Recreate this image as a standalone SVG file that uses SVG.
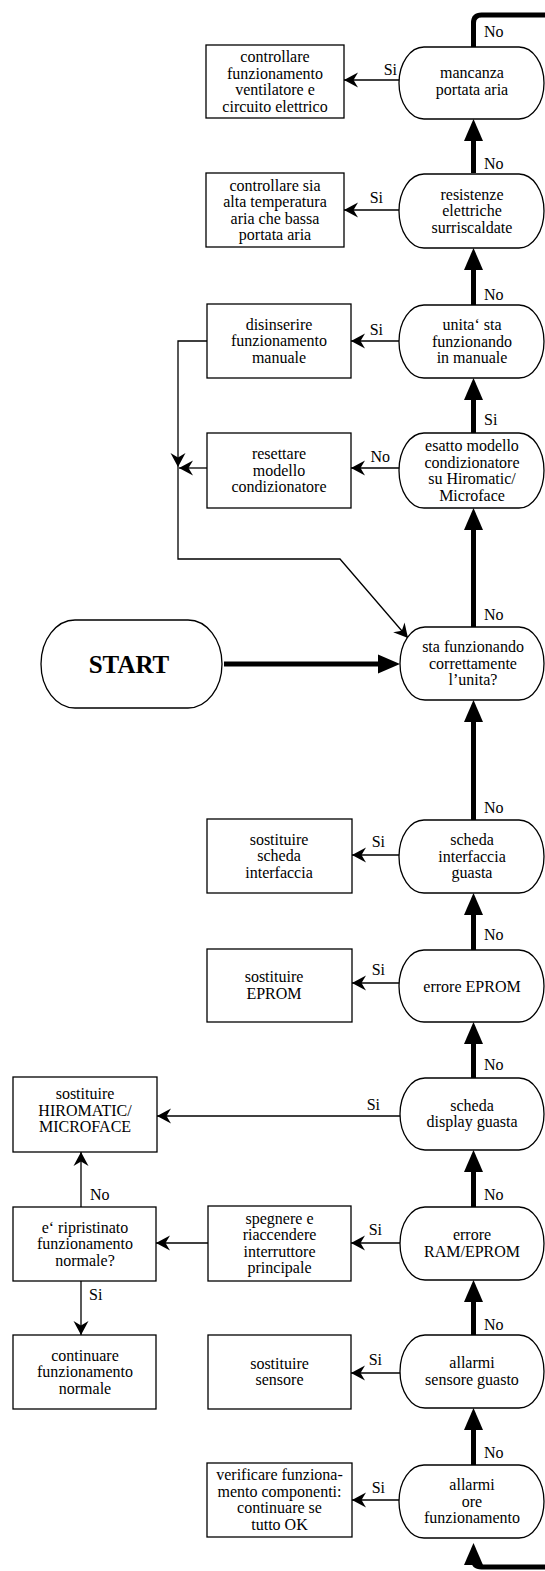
<svg xmlns="http://www.w3.org/2000/svg" width="545" height="1571" viewBox="0 0 545 1571">
<style>
.box{fill:#fff;stroke:#000;stroke-width:1.3}
.cap{fill:#fff;stroke:#000;stroke-width:1.3}
text{font-family:"Liberation Serif","Times New Roman",serif;font-size:16px;fill:#000}
.t{text-anchor:middle}
.e{text-anchor:end}
.thin{fill:none;stroke:#000;stroke-width:1.3}
.thick{fill:none;stroke:#000;stroke-width:5;stroke-linejoin:round}
.start{font-size:25px;font-weight:bold}
</style>
<defs>
<marker id="ah" markerUnits="userSpaceOnUse" viewBox="-15 -8 16 16" refX="0" refY="0" markerWidth="16" markerHeight="16" orient="auto">
<path d="M0,0 L-14,-7.5 L-9.5,0 L-14,7.5 Z" fill="#000"/>
</marker>
<marker id="big" markerUnits="userSpaceOnUse" viewBox="-11 -11 24 22" refX="0" refY="0" markerWidth="24" markerHeight="22" orient="auto">
<path d="M12,0 L-10,-9.5 L-10,9.5 Z" fill="#000"/>
</marker>
</defs>
<rect width="545" height="1571" fill="#fff"/>

<g id="connectors">
<path class="thick" d="M473.5,47 L473.5,23 Q473.5,15 481.5,15 L545,15"/>
<path class="thick" d="M473.5,173 L473.5,131" marker-end="url(#big)"/>
<path class="thick" d="M473.5,305 L473.5,260" marker-end="url(#big)"/>
<path class="thick" d="M473.5,433 L473.5,390" marker-end="url(#big)"/>
<path class="thick" d="M473.5,627 L473.5,520" marker-end="url(#big)"/>
<path class="thick" d="M473.5,820 L473.5,712" marker-end="url(#big)"/>
<path class="thick" d="M473.5,950 L473.5,905" marker-end="url(#big)"/>
<path class="thick" d="M473.5,1078 L473.5,1034" marker-end="url(#big)"/>
<path class="thick" d="M473.5,1207 L473.5,1162" marker-end="url(#big)"/>
<path class="thick" d="M473.5,1335 L473.5,1292" marker-end="url(#big)"/>
<path class="thick" d="M473.5,1465 L473.5,1420" marker-end="url(#big)"/>
<path class="thick" d="M545,1567 L481.5,1567 Q473.5,1567 473.5,1559 L473.5,1555" marker-end="url(#big)"/>
<path class="thick" d="M224,664 L388,664" marker-end="url(#big)"/>

<path class="thin" d="M399,80 L344,80" marker-end="url(#ah)"/>
<path class="thin" d="M399,210 L344,210" marker-end="url(#ah)"/>
<path class="thin" d="M399,341 L351,341" marker-end="url(#ah)"/>
<path class="thin" d="M399,468 L351,468" marker-end="url(#ah)"/>
<path class="thin" d="M399,855 L352,855" marker-end="url(#ah)"/>
<path class="thin" d="M399,983 L352,983" marker-end="url(#ah)"/>
<path class="thin" d="M400,1116 L157,1116" marker-end="url(#ah)"/>
<path class="thin" d="M400,1243 L351,1243" marker-end="url(#ah)"/>
<path class="thin" d="M208,1243 L156,1243" marker-end="url(#ah)"/>
<path class="thin" d="M400,1373 L351,1373" marker-end="url(#ah)"/>
<path class="thin" d="M399,1500 L352,1500" marker-end="url(#ah)"/>
<path class="thin" d="M81,1207 L81,1152" marker-end="url(#ah)"/>
<path class="thin" d="M81,1281 L81,1335" marker-end="url(#ah)"/>
<path class="thin" d="M207,341 L178,341 L178,467" marker-end="url(#ah)"/>
<path class="thin" d="M178,467 L178,559 L340,559 L408,638" marker-end="url(#ah)"/>
<path class="thin" d="M207,468 L179,468" marker-end="url(#ah)"/>

<text x="484" y="37">No</text>
<text x="484" y="169">No</text>
<text x="484" y="300">No</text>
<text x="484" y="425">Si</text>
<text x="484" y="620">No</text>
<text x="484" y="813">No</text>
<text x="484" y="940">No</text>
<text x="484" y="1070">No</text>
<text x="484" y="1200">No</text>
<text x="484" y="1330">No</text>
<text x="484" y="1458">No</text>

<text class="e" x="397" y="75">Si</text>
<text class="e" x="383" y="203">Si</text>
<text class="e" x="383" y="335">Si</text>
<text class="e" x="390" y="462">No</text>
<text class="e" x="385" y="847">Si</text>
<text class="e" x="385" y="975">Si</text>
<text class="e" x="380" y="1110">Si</text>
<text class="e" x="382" y="1235">Si</text>
<text class="e" x="382" y="1365">Si</text>
<text class="e" x="385" y="1493">Si</text>
<text x="90" y="1200">No</text>
<text x="89" y="1300">Si</text>
</g>

<g id="n-cap1"><rect class="cap" x="399" y="47" width="145" height="72" rx="25" ry="36"/>
<text class="t"><tspan x="472" y="78">mancanza</tspan><tspan x="472" y="94.5">portata aria</tspan></text></g>
<g id="n-box1"><rect class="box" x="206" y="45" width="138" height="73"/>
<text class="t"><tspan x="275" y="62">controllare</tspan><tspan x="275" y="78.5">funzionamento</tspan><tspan x="275" y="95">ventilatore e</tspan><tspan x="275" y="111.5">circuito elettrico</tspan></text></g>

<g id="n-cap2"><rect class="cap" x="399" y="174" width="145" height="74" rx="25" ry="37"/>
<text class="t"><tspan x="472" y="199.5">resistenze</tspan><tspan x="472" y="216">elettriche</tspan><tspan x="472" y="232.5">surriscaldate</tspan></text></g>
<g id="n-box2"><rect class="box" x="206" y="173" width="138" height="74"/>
<text class="t"><tspan x="275" y="190.5">controllare sia</tspan><tspan x="275" y="207">alta temperatura</tspan><tspan x="275" y="223.5">aria che bassa</tspan><tspan x="275" y="240">portata aria</tspan></text></g>

<g id="n-cap3"><rect class="cap" x="399" y="305" width="145" height="73" rx="25" ry="36.5"/>
<text class="t"><tspan x="472" y="330">unita‘ sta</tspan><tspan x="472" y="346.5">funzionando</tspan><tspan x="472" y="363">in manuale</tspan></text></g>
<g id="n-box3"><rect class="box" x="207" y="304" width="144" height="74"/>
<text class="t"><tspan x="279" y="329.5">disinserire</tspan><tspan x="279" y="346">funzionamento</tspan><tspan x="279" y="362.5">manuale</tspan></text></g>

<g id="n-cap4"><rect class="cap" x="399" y="433" width="145" height="75" rx="25" ry="37.5"/>
<text class="t"><tspan x="472" y="451">esatto modello</tspan><tspan x="472" y="467.5">condizionatore</tspan><tspan x="472" y="484">su Hiromatic/</tspan><tspan x="472" y="500.5">Microface</tspan></text></g>
<g id="n-box4"><rect class="box" x="207" y="433" width="144" height="75"/>
<text class="t"><tspan x="279" y="459">resettare</tspan><tspan x="279" y="475.5">modello</tspan><tspan x="279" y="492">condizionatore</tspan></text></g>

<g id="n-start"><rect class="cap" x="41" y="620" width="181" height="88" rx="34" ry="44"/>
<text class="t start" x="129" y="673">START</text></g>
<g id="n-cap5"><rect class="cap" x="400" y="627" width="144" height="73" rx="25" ry="36.5"/>
<text class="t"><tspan x="473" y="652">sta funzionando</tspan><tspan x="473" y="668.5">correttamente</tspan><tspan x="473" y="685">l’unita?</tspan></text></g>

<g id="n-cap6"><rect class="cap" x="399" y="820" width="145" height="73" rx="25" ry="36.5"/>
<text class="t"><tspan x="472" y="845">scheda</tspan><tspan x="472" y="861.5">interfaccia</tspan><tspan x="472" y="878">guasta</tspan></text></g>
<g id="n-box6"><rect class="box" x="207" y="819" width="145" height="74"/>
<text class="t"><tspan x="279" y="844.5">sostituire</tspan><tspan x="279" y="861">scheda</tspan><tspan x="279" y="877.5">interfaccia</tspan></text></g>

<g id="n-cap7"><rect class="cap" x="399" y="950" width="145" height="72" rx="25" ry="36"/>
<text class="t" x="472" y="992">errore EPROM</text></g>
<g id="n-box7"><rect class="box" x="207" y="949" width="145" height="73"/>
<text class="t"><tspan x="274" y="982">sostituire</tspan><tspan x="274" y="998.5">EPROM</tspan></text></g>

<g id="n-cap8"><rect class="cap" x="400" y="1078" width="144" height="72" rx="25" ry="36"/>
<text class="t"><tspan x="472" y="1110.5">scheda</tspan><tspan x="472" y="1127">display guasta</tspan></text></g>
<g id="n-box8"><rect class="box" x="13" y="1077" width="144" height="75"/>
<text class="t"><tspan x="85" y="1099">sostituire</tspan><tspan x="85" y="1115.5">HIROMATIC/</tspan><tspan x="85" y="1132">MICROFACE</tspan></text></g>

<g id="n-cap9"><rect class="cap" x="400" y="1207" width="144" height="73" rx="25" ry="36.5"/>
<text class="t"><tspan x="472" y="1240">errore</tspan><tspan x="472" y="1256.5">RAM/EPROM</tspan></text></g>
<g id="n-box9"><rect class="box" x="208" y="1206" width="143" height="75"/>
<text class="t"><tspan x="279.5" y="1223.5">spegnere e</tspan><tspan x="279.5" y="1240">riaccendere</tspan><tspan x="279.5" y="1256.5">interruttore</tspan><tspan x="279.5" y="1273">principale</tspan></text></g>
<g id="n-box9a"><rect class="box" x="13" y="1207" width="143" height="74"/>
<text class="t"><tspan x="85" y="1232.5">e‘ ripristinato</tspan><tspan x="85" y="1249">funzionamento</tspan><tspan x="85" y="1265.5">normale?</tspan></text></g>

<g id="n-cap10"><rect class="cap" x="400" y="1335" width="144" height="73" rx="25" ry="36.5"/>
<text class="t"><tspan x="472" y="1368">allarmi</tspan><tspan x="472" y="1384.5">sensore guasto</tspan></text></g>
<g id="n-box10"><rect class="box" x="208" y="1335" width="143" height="74"/>
<text class="t"><tspan x="279.5" y="1368.5">sostituire</tspan><tspan x="279.5" y="1385">sensore</tspan></text></g>
<g id="n-box10a"><rect class="box" x="13" y="1335" width="143" height="74"/>
<text class="t"><tspan x="85" y="1360.5">continuare</tspan><tspan x="85" y="1377">funzionamento</tspan><tspan x="85" y="1393.5">normale</tspan></text></g>

<g id="n-cap11"><rect class="cap" x="399" y="1465" width="145" height="73" rx="25" ry="36.5"/>
<text class="t"><tspan x="472" y="1490">allarmi</tspan><tspan x="472" y="1506.5">ore</tspan><tspan x="472" y="1523">funzionamento</tspan></text></g>
<g id="n-box11"><rect class="box" x="207" y="1463" width="145" height="74"/>
<text class="t"><tspan x="279.5" y="1480">verificare funziona-</tspan><tspan x="279.5" y="1496.5">mento componenti:</tspan><tspan x="279.5" y="1513">continuare se</tspan><tspan x="279.5" y="1529.5">tutto OK</tspan></text></g>
</svg>
